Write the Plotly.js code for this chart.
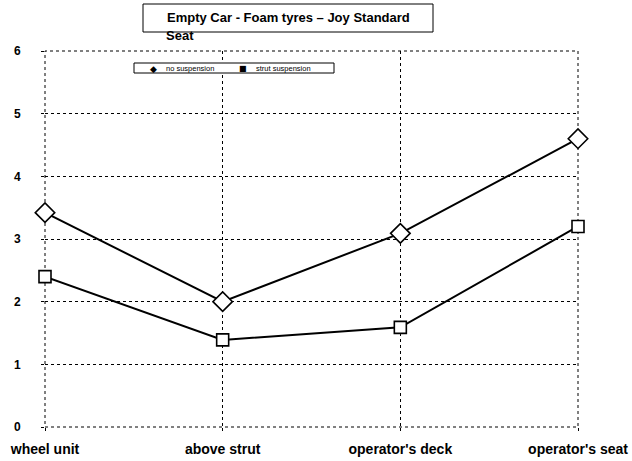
<!DOCTYPE html>
<html><head><meta charset="utf-8">
<script src="https://cdn.plot.ly/plotly-3.0.1.min.js"></script>
<style>html,body{margin:0;padding:0;background:#fff}#c{width:632px;height:461px}</style>
</head><body><div id="c"></div>
<script>
const categories = ["wheel unit", "above strut", "operator's deck", "operator's seat"];
const noSuspension = [3.42, 2.0, 3.09, 4.6];
const strutSuspension = [2.4, 1.39, 1.59, 3.2];
const seriesNames = ["no suspension", "strut suspension"];
const yTicks = [0, 1, 2, 3, 4, 5, 6];

const idx = categories.map((_, i) => i);
const lineStyle = {color: '#000', width: 2};
const traces = [
  {x: idx, y: noSuspension, mode: 'lines+markers', name: seriesNames[0], showlegend: false, cliponaxis: false,
   line: lineStyle, marker: {symbol: 'diamond', size: 15, color: '#fff', line: {color: '#000', width: 1.6}}},
  {x: idx, y: strutSuspension, mode: 'lines+markers', name: seriesNames[1], showlegend: false, cliponaxis: false,
   line: lineStyle, marker: {symbol: 'square', size: 12, color: '#fff', line: {color: '#000', width: 1.6}}}
];

const L = 45, T = 51, W = 533, H = 376;
const px = v => (v - L) / W;
const py = v => 1 - (v - T) / H;
const dash = '3px,3px';

const layout = {
  width: 632, height: 461,
  margin: {l: L, r: 632 - L - W, t: T, b: 461 - T - H},
  paper_bgcolor: '#fff', plot_bgcolor: '#fff',
  font: {family: 'Liberation Sans, Arial, sans-serif', color: '#000'},
  showlegend: false,
  xaxis: {
    range: [0, 3], tickvals: idx, ticktext: categories,
    showgrid: true, gridcolor: '#000', griddash: dash, gridwidth: 1,
    zeroline: false, showline: false, ticks: 'outside', ticklen: 3, tickcolor: '#000', ticklabelstandoff: 6,
    tickfont: {size: 14, weight: 'bold'}
  },
  yaxis: {
    range: [0, 6], tickvals: yTicks,
    showgrid: true, gridcolor: '#000', griddash: dash, gridwidth: 1,
    zeroline: false, showline: false, ticks: 'outside', ticklen: 3, tickcolor: '#000', ticklabelstandoff: 18,
    tickfont: {size: 12, weight: 'bold'}
  },
  shapes: [
    {type: 'rect', xref: 'paper', yref: 'paper', x0: 0, x1: 1, y0: 0, y1: 1,
     line: {color: '#000', width: 1, dash: dash}, layer: 'below'},
    {type: 'rect', xref: 'paper', yref: 'paper',
     x0: px(143), x1: px(433), y0: py(32), y1: py(4),
     line: {color: '#000', width: 1}, fillcolor: '#fff', layer: 'below'},
    {type: 'rect', xref: 'paper', yref: 'paper',
     x0: px(134), x1: px(334), y0: py(73), y1: py(63),
     line: {color: '#000', width: 1}, fillcolor: '#fff', layer: 'above'}
  ],
  annotations: [
    {text: 'Empty Car - Foam tyres \u2013 Joy Standard', xref: 'paper', yref: 'paper',
     x: px(288), y: py(18), xanchor: 'center', yanchor: 'middle',
     showarrow: false, font: {size: 13, weight: 'bold'}},
    {text: 'Seat', xref: 'paper', yref: 'paper',
     x: px(164), y: py(36), xanchor: 'left', yanchor: 'middle',
     showarrow: false, font: {size: 13, weight: 'bold'}},
    {text: '\u25C6', xref: 'paper', yref: 'paper', x: px(153), y: py(68.5), xanchor: 'center', yanchor: 'middle',
     showarrow: false, font: {size: 9, family: 'DejaVu Sans'}},
    {text: seriesNames[0], xref: 'paper', yref: 'paper', x: px(164), y: py(68.5), xanchor: 'left', yanchor: 'middle',
     showarrow: false, font: {size: 7.5}},
    {text: '\u25A0', xref: 'paper', yref: 'paper', x: px(243), y: py(68.5), xanchor: 'center', yanchor: 'middle',
     showarrow: false, font: {size: 8, family: 'DejaVu Sans'}},
    {text: seriesNames[1], xref: 'paper', yref: 'paper', x: px(254), y: py(68.5), xanchor: 'left', yanchor: 'middle',
     showarrow: false, font: {size: 7.5}}
  ]
};
Plotly.newPlot('c', traces, layout, {displayModeBar: false, staticPlot: true});
</script></body></html>
